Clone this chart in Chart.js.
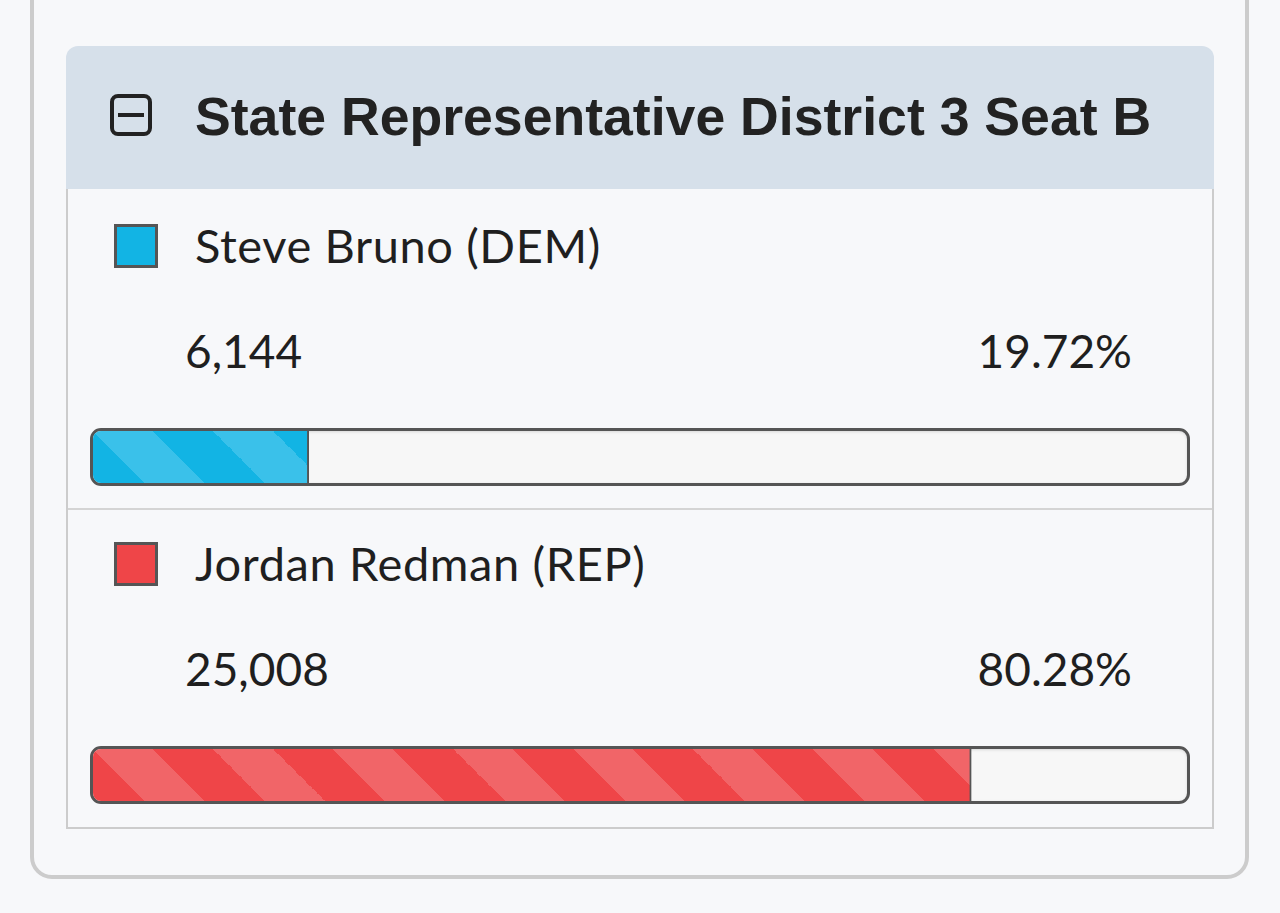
<!DOCTYPE html>
<html>
<head>
<meta charset="utf-8">
<script src="https://cdn.jsdelivr.net/npm/chart.js@4.4.1/dist/chart.umd.min.js"></script>
<style>
  html, body { margin: 0; padding: 0; }
  body { width: 1280px; height: 913px; background: #f7f8fa; position: relative; overflow: hidden; font-family: Lato, "Noto Sans", sans-serif; color: #1f1f1f; }
  .outer { position: absolute; left: 30px; top: -40px; width: 1211px; height: 911px; border: 4px solid #cccccc; border-radius: 22px; background: #f7f8fa; }
  .panel { position: absolute; left: 66px; top: 46px; width: 1148px; height: 783px; }
  .head { position: absolute; left: 0; top: 0; width: 1148px; height: 143px; background: #d6e0ea; border-radius: 12px 12px 0 0; }
  .icon { position: absolute; left: 44px; top: 48px; width: 34px; height: 34px; border: 4px solid #222; border-radius: 8px; }
  .icon::after { content: ""; position: absolute; left: 4px; top: 15px; width: 26px; height: 4px; background: #222; }
  .title { position: absolute; left: 129px; top: 38px; font-family: "Liberation Sans", Arial, sans-serif; font-weight: bold; font-size: 53.6px; line-height: 64px; color: #222; white-space: nowrap; }
  .body { position: absolute; left: 0; top: 143px; width: 1144px; height: 638px; border: 2px solid #cccccc; border-top: none; }
  .row { position: absolute; left: 0; width: 1144px; height: 318px; }
  .sep { position: absolute; left: 0; top: 319px; width: 1144px; height: 2px; background: #d4d4d4; }
  .swatch { position: absolute; left: 46px; top: 35px; width: 38px; height: 38px; border: 3px solid #555; }
  .name { position: absolute; left: 127px; top: 28px; font-size: 47px; letter-spacing: 0.6px; line-height: 56px; white-space: nowrap; }
  .votes { position: absolute; left: 117px; top: 134px; font-size: 46px; line-height: 56px; }
  .pct { position: absolute; right: 80px; top: 134px; font-size: 46px; line-height: 56px; text-align: right; }
  .track { position: absolute; left: 22px; top: 239px; width: 1094px; height: 52px; border: 3px solid #555; border-radius: 11px; background: #f7f7f7; overflow: hidden; box-shadow: inset 0 1px 3px rgba(0,0,0,0.12); }
  .track canvas { display: block; }
</style>
</head>
<body>
<div class="outer"></div>
<div class="panel">
  <div class="head">
    <div class="icon"></div>
    <div class="title">State Representative District 3 Seat B</div>
  </div>
  <div class="body" id="rows"><div class="sep"></div></div>
</div>
<script>
// Race results
const candidates = ["Steve Bruno", "Jordan Redman"];
const parties = ["DEM", "REP"];
const votes = [6144, 25008];
const percents = [19.72, 80.28];

// Party colours: base fill and the lighter stripe
const fillColors = ["#12b4e4", "#ef4548"];
const stripeColors = ["#3ac1ea", "#f16568"];

// Diagonal "\" stripes, 60px bands, built as a hard-stop gradient
function stripeFill(ctx, base, light) {
  const period = 120, count = 11;
  const half = period * count / 2;
  const g = ctx.createLinearGradient(-period, 0, -period + half, -half);
  for (let k = 0; k < count; k++) {
    const a = (k * period) / (period * count);
    const b = (k * period + period / 2) / (period * count);
    const c = ((k + 1) * period) / (period * count);
    g.addColorStop(a, light);
    g.addColorStop(b, light);
    g.addColorStop(b, base);
    g.addColorStop(c, base);
  }
  return g;
}

const rows = document.getElementById("rows");

candidates.forEach((name, i) => {
  const row = document.createElement("div");
  row.className = "row";
  row.style.top = (i * 318) + "px";
  row.innerHTML = `
    <div class="swatch" style="background:${fillColors[i]}"></div>
    <div class="name">${name} (${parties[i]})</div>
    <div class="votes">${votes[i].toLocaleString("en-US")}</div>
    <div class="pct">${percents[i].toFixed(2)}%</div>
    <div class="track"><canvas width="1094" height="52"></canvas></div>
  `;
  rows.appendChild(row);

  const canvas = row.querySelector("canvas");
  const ctx = canvas.getContext("2d");

  new Chart(ctx, {
    type: "bar",
    data: {
      labels: [name],
      datasets: [{
        data: [percents[i]],
        backgroundColor: stripeFill(ctx, fillColors[i], stripeColors[i]),
        borderColor: "#555555",
        borderWidth: { top: 0, bottom: 0, left: 0, right: 2 },
        borderSkipped: false,
        barPercentage: 1,
        categoryPercentage: 1
      }]
    },
    options: {
      indexAxis: "y",
      responsive: false,
      animation: false,
      devicePixelRatio: 1,
      layout: { padding: 0 },
      plugins: { legend: { display: false }, tooltip: { enabled: false } },
      scales: {
        x: { display: false, min: 0, max: 100 },
        y: { display: false }
      }
    }
  });
});
</script>
</body>
</html>
